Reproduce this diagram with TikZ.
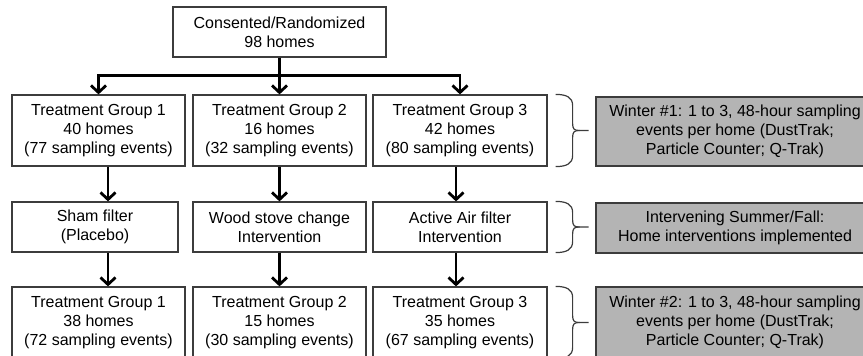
\documentclass[tikz,border=0pt]{standalone}
\usepackage{fontspec}
\setmainfont{Liberation Sans}
\usetikzlibrary{arrows.meta}
\definecolor{boxgray}{RGB}{180,180,180}
\definecolor{edgegray}{RGB}{60,60,60}
% curly brace to the right of a box, tip pointing at the side note
\newcommand{\sidebrace}[1]{%
\draw[bracestroke] ([xshift=8pt]#1.north east) .. controls ([xshift=19pt]#1.north east) and ([xshift=25pt,yshift=-3pt]#1.north east) .. ([xshift=25pt,yshift=-11pt]#1.north east)
  -- ([xshift=25pt,yshift=7pt]#1.east) .. controls ([xshift=25pt,yshift=1pt]#1.east) and ([xshift=27pt]#1.east) .. ([xshift=32pt]#1.east) -- ([xshift=41pt]#1.east);
\draw[bracestroke] ([xshift=8pt]#1.south east) .. controls ([xshift=19pt]#1.south east) and ([xshift=25pt,yshift=3pt]#1.south east) .. ([xshift=25pt,yshift=11pt]#1.south east)
  -- ([xshift=25pt,yshift=-7pt]#1.east) .. controls ([xshift=25pt,yshift=-1pt]#1.east) and ([xshift=27pt]#1.east) .. ([xshift=32pt]#1.east);
}

\begin{document}
\begin{tikzpicture}[scale=1.000000,x=1pt,y=1pt,
  every node/.style={font=\fontsize{16}{19}\selectfont},
  stagebox/.style={draw=edgegray,line width=1.2pt,fill=white,align=center,inner sep=0pt},
  notebox/.style={draw=edgegray,line width=1.2pt,fill=boxgray,align=center,inner sep=0pt},
  flow/.style={line width=2.8pt,-{Straight Barb[length=7pt,width=15pt]}},
  bracestroke/.style={draw=edgegray,line width=1.2pt}]
\useasboundingbox (0.000000,0.000000) rectangle (863.000000,356.000000);
% Drawing boxes
% Top: randomized homes
\node[stagebox,minimum width=213,minimum height=50] (rand) at (279.500000,324.000000) {Consented/Randomized\\98 homes};
% Row 1: winter #1 groups
\node[stagebox,minimum width=173,minimum height=71] (g1a) at (98.500000,225.500000) {Treatment Group 1\\40 homes\\(77 sampling events)};
\node[stagebox,minimum width=173,minimum height=71] (g2a) at (279.500000,225.500000) {Treatment Group 2\\16 homes\\(32 sampling events)};
\node[stagebox,minimum width=174,minimum height=71] (g3a) at (460.000000,225.500000) {Treatment Group 3\\42 homes\\(80 sampling events)};
% Row 2: interventions
\node[stagebox,minimum width=166,minimum height=50] (sham) at (95.000000,129.000000) {Sham filter\\(Placebo)};
\node[stagebox,minimum width=173,minimum height=50] (wood) at (279.500000,129.000000) {Wood stove change\\Intervention};
\node[stagebox,minimum width=174,minimum height=50] (air) at (460.000000,129.000000) {Active Air filter\\Intervention};
% Row 3: winter #2 groups
\node[stagebox,minimum width=173,minimum height=71] (g1b) at (98.500000,33.500000) {Treatment Group 1\\38 homes\\(72 sampling events)};
\node[stagebox,minimum width=173,minimum height=71] (g2b) at (279.500000,33.500000) {Treatment Group 2\\15 homes\\(30 sampling events)};
\node[stagebox,minimum width=174,minimum height=71] (g3b) at (460.000000,33.500000) {Treatment Group 3\\35 homes\\(67 sampling events)};
% Side notes
\node[notebox,minimum width=278,minimum height=69] (win1) at (735.000000,224.500000) {Winter \#1: 1 to 3, 48-hour sampling\\events per home (DustTrak;\\Particle Counter; Q-Trak)};
\node[notebox,minimum width=278,minimum height=50] (interv) at (735.000000,128.000000) {Intervening Summer/Fall:\\Home interventions implemented};
\node[notebox,minimum width=278,minimum height=70] (win2) at (735.000000,34.000000) {Winter \#2: 1 to 3, 48-hour sampling\\events per home (DustTrak;\\Particle Counter; Q-Trak)};
% Done with boxes; drawing arrows
\draw[flow] (rand.south) |- ([yshift=19pt]g1a.north) -- (g1a.north);
\draw[flow] (rand.south) -- (g2a.north);
\draw[flow] (rand.south) |- ([yshift=19pt]g3a.north) -- (g3a.north);
\draw[flow] ([xshift=9.5pt]g1a.south) -- ([xshift=9.5pt]g1a.south |- sham.north);
\draw[flow] (g2a.south) -- (wood.north);
\draw[flow] ([xshift=-4pt]g3a.south) -- ([xshift=-4pt]g3a.south |- air.north);
\draw[flow] ([xshift=9.5pt]g1a.south |- sham.south) -- ([xshift=9.5pt]g1b.north);
\draw[flow] (wood.south) -- (g2b.north);
\draw[flow] ([xshift=-4pt]air.south) -- ([xshift=-4pt]g3b.north);
% Done with arrows; drawing braces
\sidebrace{g3a}
\sidebrace{air}
\sidebrace{g3b}
% Done with braces
\end{tikzpicture}
\end{document}
